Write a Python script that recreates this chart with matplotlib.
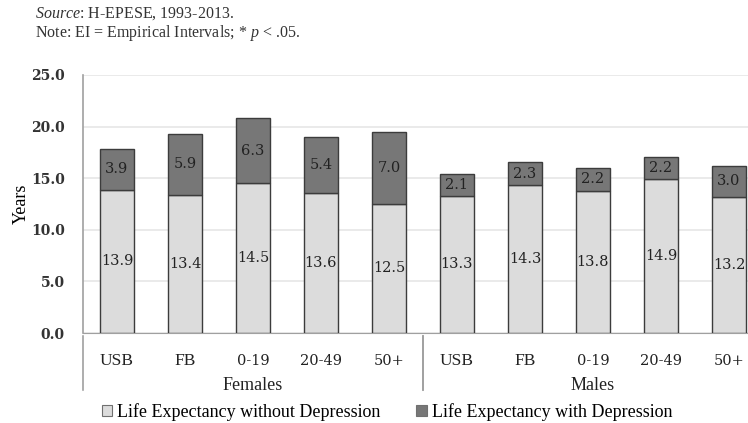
import matplotlib.pyplot as plt
from matplotlib.patches import Patch

plt.rcParams['font.family'] = ['Liberation Serif', 'DejaVu Serif']
plt.rcParams['mathtext.fontset'] = 'custom'
plt.rcParams['mathtext.rm'] = 'Liberation Serif'
plt.rcParams['mathtext.it'] = 'Liberation Serif:italic'

groups = ["Females", "Males"]
categories = ["USB", "FB", "0-19", "20-49", "50+"]
without_dep = [13.9, 13.4, 14.5, 13.6, 12.5, 13.3, 14.3, 13.8, 14.9, 13.2]
with_dep = [3.9, 5.9, 6.3, 5.4, 7.0, 2.1, 2.3, 2.2, 2.2, 3.0]

light = "#dcdcdc"
dark = "#777777"
edge = "#3c3c3c"
numfont = "DejaVu Serif"

fig = plt.figure(figsize=(7.48, 4.23), dpi=100)
ax = fig.add_axes([83 / 748, 90 / 423, 680 / 748, 258 / 423])

x = list(range(len(without_dep)))
b1 = ax.bar(x, without_dep, width=0.5, color=light, edgecolor=edge, linewidth=1, zorder=3)
b2 = ax.bar(x, with_dep, width=0.5, bottom=without_dep, color=dark, edgecolor=edge,
            linewidth=1, zorder=3)

for i in x:
    ax.text(i, without_dep[i] / 2, f"{without_dep[i]:.1f}", ha="center", va="center",
            fontsize=10.5, family=numfont, color="#222222", zorder=4)
    ax.text(i, without_dep[i] + with_dep[i] / 2, f"{with_dep[i]:.1f}", ha="center",
            va="center", fontsize=10.5, family=numfont, color="#222222", zorder=4)

ax.set_xlim(-0.5, 9.5)
ax.set_ylim(0, 25)
ax.set_yticks([0, 5, 10, 15, 20, 25])
ax.set_yticklabels([f"{v:.1f}" for v in [0, 5, 10, 15, 20, 25]], family=numfont,
                   fontsize=10, fontweight="bold", color="#333333")
ax.yaxis.grid(True, color="#e6e6e6", linewidth=1.2, zorder=0)
ax.tick_params(axis="y", length=0, pad=13)
ax.set_xticks([])

for s in ["top", "right"]:
    ax.spines[s].set_visible(False)
ax.spines["left"].set_color("#a0a0a0")
ax.spines["bottom"].set_color("#a0a0a0")
ax.spines["left"].set_linewidth(1.2)

ax.set_ylabel("Years", fontsize=13, va="center")
ax.yaxis.set_label_coords(-(83 - 21) / 680, 0.5)

# category and group labels under the axis
labels = categories * len(groups)
for i, lab in enumerate(labels):
    fam = "Liberation Serif" if lab.isalpha() else numfont
    ax.annotate(lab, (i, 0), xytext=(0, -20), textcoords="offset points",
                ha="center", va="center", fontsize=12.5 if lab.isalpha() else 10.5,
                family=fam, color="#222222", annotation_clip=False)

for g, name in enumerate(groups):
    center = g * len(categories) + (len(categories) - 1) / 2
    ax.annotate(name, (center, 0), xytext=(0, -38), textcoords="offset points",
                ha="center", va="center", fontsize=13, color="#222222",
                annotation_clip=False)
    for edge_x in [g * len(categories) - 0.5, (g + 1) * len(categories) - 0.5]:
        ax.annotate("", (edge_x, 0), xytext=(edge_x, -60 * 0.72), textcoords=("data", "offset points"),
                    arrowprops=dict(arrowstyle="-", color="#a0a0a0", lw=1.2),
                    annotation_clip=False)

fig.text(35 / 748, 1 - 14 / 423, r"$\mathit{Source}$: H-EPESE, 1993-2013.", fontsize=11.5,
         va="center", color="#333333")
fig.text(35 / 748, 1 - 33 / 423, r"Note: EI = Empirical Intervals; * $\mathit{p}$ < .05.",
         fontsize=11.5, va="center", color="#333333")

handles = [Patch(facecolor=light, edgecolor="#707070", linewidth=0.8),
           Patch(facecolor=dark, edgecolor="#707070", linewidth=0.8)]
fig.legend(handles, ["Life Expectancy without Depression", "Life Expectancy with Depression"],
           loc="center", bbox_to_anchor=(387 / 748, 11 / 423), ncol=2, frameon=False,
           fontsize=13, handlelength=0.6, handleheight=0.6, handletextpad=0.25,
           columnspacing=2.0, borderaxespad=0)

fig.savefig("out.png", dpi=100)
